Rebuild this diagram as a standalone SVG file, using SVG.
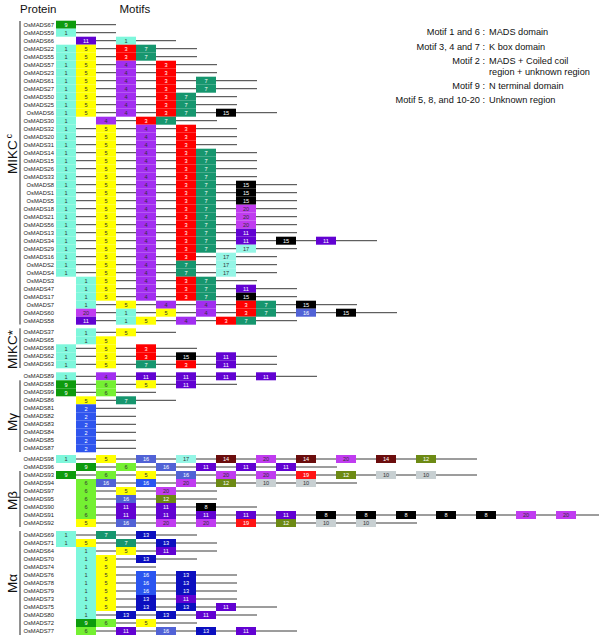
<svg xmlns="http://www.w3.org/2000/svg" width="600" height="636" viewBox="0 0 600 636">
<style>
text{font-family:"Liberation Sans",Arial,sans-serif}
.lbl{font-size:5.8px;fill:#222;text-anchor:end}
.d,.w{font-size:5.6px;text-anchor:middle}
.d{fill:#333}.w{fill:#fff}
.m1{fill:#7ef7dc}.m2{fill:#2f55ee}.m3{fill:#ff0000}.m4{fill:#a22ef0}.m5{fill:#ffff00}
.m6{fill:#74f032}.m7{fill:#16966e}.m8{fill:#000}.m9{fill:#0d9b0d}.m10{fill:#c8d0d2}
.m11{fill:#6202d2}.m12{fill:#6d8a14}.m13{fill:#0c0fbf}.m14{fill:#6b0d0d}.m15{fill:#000}
.m16{fill:#5162d6}.m17{fill:#95f6e6}.m19{fill:#ff1414}.m20{fill:#c03cf0}
#connectors line{stroke:#3a3a3a;stroke-width:1}
.br{stroke:#222;stroke-width:1}
.hdr{font-size:11.5px;fill:#111}
.leg{font-size:9.2px;fill:#111}
.la{text-anchor:end}
.grp{font-size:13.5px;fill:#111}
</style>
<rect width="600" height="636" fill="#fff"/>
<text class="hdr" x="20" y="12.5">Protein</text>
<text class="hdr" x="119.5" y="12.5">Motifs</text>
<g id="legend">
<text class="leg la" x="485" y="35.2">Motif 1 and 6 :</text><text class="leg" x="489" y="35.2">MADS domain</text>
<text class="leg la" x="485" y="49.5">Motif 3, 4 and 7 :</text><text class="leg" x="489" y="49.5">K box domain</text>
<text class="leg la" x="485" y="63.7">Motif 2 :</text><text class="leg" x="489" y="63.7">MADS + Coiled coil</text>
<text class="leg" x="489" y="74.7">region + unknown region</text>
<text class="leg la" x="485" y="89">Motif 9 :</text><text class="leg" x="489" y="89">N terminal domain</text>
<text class="leg la" x="485" y="103.2">Motif 5, 8, and 10-20 :</text><text class="leg" x="489" y="103.2">Unknown region</text>
</g>
<g id="groups">
<line class="br" x1="20" y1="21" x2="20" y2="324.5"/>
<line class="br" x1="20" y1="328.3" x2="20" y2="368"/>
<line class="br" x1="20" y1="380.3" x2="20" y2="452"/>
<line class="br" x1="20" y1="471" x2="20" y2="527"/>
<line class="br" x1="20" y1="531" x2="20" y2="635"/>
<text class="grp" transform="translate(17,174) rotate(-90)">MIKC<tspan dx="2" dy="-5" font-size="8.5">c</tspan></text>
<text class="grp" transform="translate(17,369) rotate(-90)">MIKC*</text>
<text class="grp" transform="translate(17,431) rotate(-90)">Mγ</text>
<text class="grp" transform="translate(17,510) rotate(-90)">Mβ</text>
<text class="grp" transform="translate(17,593) rotate(-90)">Mα</text>
</g>
<g id="connectors">
<line x1="56" y1="24.7" x2="116" y2="24.7"/>
<line x1="56" y1="32.7" x2="116" y2="32.7"/>
<line x1="76" y1="40.7" x2="176" y2="40.7"/>
<line x1="56" y1="48.7" x2="197" y2="48.7"/>
<line x1="56" y1="56.7" x2="197" y2="56.7"/>
<line x1="56" y1="64.7" x2="217" y2="64.7"/>
<line x1="56" y1="72.7" x2="217" y2="72.7"/>
<line x1="56" y1="80.7" x2="257" y2="80.7"/>
<line x1="56" y1="88.7" x2="257" y2="88.7"/>
<line x1="56" y1="96.7" x2="237" y2="96.7"/>
<line x1="56" y1="104.7" x2="237" y2="104.7"/>
<line x1="56" y1="112.7" x2="277" y2="112.7"/>
<line x1="96" y1="120.7" x2="217" y2="120.7"/>
<line x1="56" y1="128.7" x2="237" y2="128.7"/>
<line x1="56" y1="136.7" x2="237" y2="136.7"/>
<line x1="56" y1="144.7" x2="237" y2="144.7"/>
<line x1="56" y1="152.7" x2="257" y2="152.7"/>
<line x1="56" y1="160.7" x2="257" y2="160.7"/>
<line x1="56" y1="168.7" x2="257" y2="168.7"/>
<line x1="56" y1="176.7" x2="257" y2="176.7"/>
<line x1="56" y1="184.7" x2="297" y2="184.7"/>
<line x1="56" y1="192.7" x2="297" y2="192.7"/>
<line x1="56" y1="200.7" x2="297" y2="200.7"/>
<line x1="56" y1="208.7" x2="297" y2="208.7"/>
<line x1="56" y1="216.7" x2="297" y2="216.7"/>
<line x1="56" y1="224.7" x2="297" y2="224.7"/>
<line x1="56" y1="232.7" x2="297" y2="232.7"/>
<line x1="56" y1="240.7" x2="377" y2="240.7"/>
<line x1="56" y1="248.7" x2="297" y2="248.7"/>
<line x1="56" y1="256.7" x2="277" y2="256.7"/>
<line x1="56" y1="264.7" x2="277" y2="264.7"/>
<line x1="56" y1="272.7" x2="277" y2="272.7"/>
<line x1="76" y1="280.7" x2="257" y2="280.7"/>
<line x1="76" y1="288.7" x2="297" y2="288.7"/>
<line x1="76" y1="296.7" x2="297" y2="296.7"/>
<line x1="76" y1="304.7" x2="357" y2="304.7"/>
<line x1="76" y1="312.7" x2="397" y2="312.7"/>
<line x1="76" y1="320.7" x2="297" y2="320.7"/>
<line x1="76" y1="332.3" x2="176" y2="332.3"/>
<line x1="76" y1="340.3" x2="116" y2="340.3"/>
<line x1="56" y1="348.3" x2="197" y2="348.3"/>
<line x1="56" y1="356.3" x2="277" y2="356.3"/>
<line x1="56" y1="364.3" x2="277" y2="364.3"/>
<line x1="56" y1="376.3" x2="317" y2="376.3"/>
<line x1="56" y1="384.3" x2="237" y2="384.3"/>
<line x1="56" y1="392.3" x2="156" y2="392.3"/>
<line x1="76" y1="400.3" x2="176" y2="400.3"/>
<line x1="76" y1="408.3" x2="136" y2="408.3"/>
<line x1="76" y1="416.3" x2="136" y2="416.3"/>
<line x1="76" y1="424.3" x2="136" y2="424.3"/>
<line x1="76" y1="432.3" x2="136" y2="432.3"/>
<line x1="76" y1="440.3" x2="136" y2="440.3"/>
<line x1="76" y1="448.3" x2="136" y2="448.3"/>
<line x1="56" y1="459" x2="477" y2="459"/>
<line x1="76" y1="467" x2="337" y2="467"/>
<line x1="56" y1="475" x2="477" y2="475"/>
<line x1="76" y1="483" x2="357" y2="483"/>
<line x1="76" y1="491" x2="217" y2="491"/>
<line x1="76" y1="499" x2="217" y2="499"/>
<line x1="76" y1="507" x2="257" y2="507"/>
<line x1="76" y1="515" x2="599" y2="515"/>
<line x1="76" y1="523" x2="417" y2="523"/>
<line x1="56" y1="535" x2="197" y2="535"/>
<line x1="56" y1="543" x2="217" y2="543"/>
<line x1="76" y1="551" x2="217" y2="551"/>
<line x1="76" y1="559" x2="197" y2="559"/>
<line x1="76" y1="567" x2="156" y2="567"/>
<line x1="76" y1="575" x2="237" y2="575"/>
<line x1="76" y1="583" x2="237" y2="583"/>
<line x1="76" y1="591" x2="237" y2="591"/>
<line x1="76" y1="599" x2="237" y2="599"/>
<line x1="76" y1="607" x2="277" y2="607"/>
<line x1="76" y1="615" x2="257" y2="615"/>
<line x1="76" y1="623" x2="197" y2="623"/>
<line x1="76" y1="631" x2="297" y2="631"/>
</g>
<g id="OsMADS67" class="r" transform="translate(0,24.7)"><text class="lbl" x="54" y="2.1">OsMADS67</text><rect class="m9" x="56" y="-4" width="20" height="8"/><text class="w" x="66" y="2.2">9</text></g>
<g id="OsMADS59" class="r" transform="translate(0,32.7)"><text class="lbl" x="54" y="2.1">OsMADS59</text><rect class="m1" x="56" y="-4" width="20" height="8"/><text class="d" x="66" y="2.2">1</text></g>
<g id="OsMADS66" class="r" transform="translate(0,40.7)"><text class="lbl" x="54" y="2.1">OsMADS66</text><rect class="m11" x="76" y="-4" width="20" height="8"/><text class="w" x="86" y="2.2">11</text><rect class="m1" x="116" y="-4" width="20" height="8"/><text class="d" x="126" y="2.2">1</text></g>
<g id="OsMADS22" class="r" transform="translate(0,48.7)"><text class="lbl" x="54" y="2.1">OsMADS22</text><rect class="m1" x="56" y="-4" width="20" height="8"/><text class="d" x="66" y="2.2">1</text><rect class="m5" x="76" y="-4" width="20" height="8"/><text class="d" x="86" y="2.2">5</text><rect class="m3" x="116" y="-4" width="20" height="8"/><text class="w" x="126" y="2.2">3</text><rect class="m7" x="136" y="-4" width="20" height="8"/><text class="w" x="146" y="2.2">7</text></g>
<g id="OsMADS55" class="r" transform="translate(0,56.7)"><text class="lbl" x="54" y="2.1">OsMADS55</text><rect class="m1" x="56" y="-4" width="20" height="8"/><text class="d" x="66" y="2.2">1</text><rect class="m5" x="76" y="-4" width="20" height="8"/><text class="d" x="86" y="2.2">5</text><rect class="m3" x="116" y="-4" width="20" height="8"/><text class="w" x="126" y="2.2">3</text><rect class="m7" x="136" y="-4" width="20" height="8"/><text class="w" x="146" y="2.2">7</text></g>
<g id="OsMADS57" class="r" transform="translate(0,64.7)"><text class="lbl" x="54" y="2.1">OsMADS57</text><rect class="m1" x="56" y="-4" width="20" height="8"/><text class="d" x="66" y="2.2">1</text><rect class="m5" x="76" y="-4" width="20" height="8"/><text class="d" x="86" y="2.2">5</text><rect class="m4" x="116" y="-4" width="20" height="8"/><text class="d" x="126" y="2.2">4</text><rect class="m3" x="156" y="-4" width="20" height="8"/><text class="w" x="166" y="2.2">3</text></g>
<g id="OsMADS23" class="r" transform="translate(0,72.7)"><text class="lbl" x="54" y="2.1">OsMADS23</text><rect class="m1" x="56" y="-4" width="20" height="8"/><text class="d" x="66" y="2.2">1</text><rect class="m5" x="76" y="-4" width="20" height="8"/><text class="d" x="86" y="2.2">5</text><rect class="m4" x="116" y="-4" width="20" height="8"/><text class="d" x="126" y="2.2">4</text><rect class="m3" x="156" y="-4" width="20" height="8"/><text class="w" x="166" y="2.2">3</text></g>
<g id="OsMADS61" class="r" transform="translate(0,80.7)"><text class="lbl" x="54" y="2.1">OsMADS61</text><rect class="m1" x="56" y="-4" width="20" height="8"/><text class="d" x="66" y="2.2">1</text><rect class="m5" x="76" y="-4" width="20" height="8"/><text class="d" x="86" y="2.2">5</text><rect class="m4" x="116" y="-4" width="20" height="8"/><text class="d" x="126" y="2.2">4</text><rect class="m3" x="156" y="-4" width="20" height="8"/><text class="w" x="166" y="2.2">3</text><rect class="m7" x="196" y="-4" width="20" height="8"/><text class="w" x="206" y="2.2">7</text></g>
<g id="OsMADS27" class="r" transform="translate(0,88.7)"><text class="lbl" x="54" y="2.1">OsMADS27</text><rect class="m1" x="56" y="-4" width="20" height="8"/><text class="d" x="66" y="2.2">1</text><rect class="m5" x="76" y="-4" width="20" height="8"/><text class="d" x="86" y="2.2">5</text><rect class="m4" x="116" y="-4" width="20" height="8"/><text class="d" x="126" y="2.2">4</text><rect class="m3" x="156" y="-4" width="20" height="8"/><text class="w" x="166" y="2.2">3</text><rect class="m7" x="196" y="-4" width="20" height="8"/><text class="w" x="206" y="2.2">7</text></g>
<g id="OsMADS50" class="r" transform="translate(0,96.7)"><text class="lbl" x="54" y="2.1">OsMADS50</text><rect class="m1" x="56" y="-4" width="20" height="8"/><text class="d" x="66" y="2.2">1</text><rect class="m5" x="76" y="-4" width="20" height="8"/><text class="d" x="86" y="2.2">5</text><rect class="m4" x="116" y="-4" width="20" height="8"/><text class="d" x="126" y="2.2">4</text><rect class="m3" x="156" y="-4" width="20" height="8"/><text class="w" x="166" y="2.2">3</text><rect class="m7" x="176" y="-4" width="20" height="8"/><text class="w" x="186" y="2.2">7</text></g>
<g id="OsMADS25" class="r" transform="translate(0,104.7)"><text class="lbl" x="54" y="2.1">OsMADS25</text><rect class="m1" x="56" y="-4" width="20" height="8"/><text class="d" x="66" y="2.2">1</text><rect class="m5" x="76" y="-4" width="20" height="8"/><text class="d" x="86" y="2.2">5</text><rect class="m4" x="116" y="-4" width="20" height="8"/><text class="d" x="126" y="2.2">4</text><rect class="m3" x="156" y="-4" width="20" height="8"/><text class="w" x="166" y="2.2">3</text><rect class="m7" x="176" y="-4" width="20" height="8"/><text class="w" x="186" y="2.2">7</text></g>
<g id="OsMADS6" class="r" transform="translate(0,112.7)"><text class="lbl" x="54" y="2.1">OsMADS6</text><rect class="m1" x="56" y="-4" width="20" height="8"/><text class="d" x="66" y="2.2">1</text><rect class="m5" x="76" y="-4" width="20" height="8"/><text class="d" x="86" y="2.2">5</text><rect class="m4" x="116" y="-4" width="20" height="8"/><text class="d" x="126" y="2.2">4</text><rect class="m3" x="156" y="-4" width="20" height="8"/><text class="w" x="166" y="2.2">3</text><rect class="m7" x="176" y="-4" width="20" height="8"/><text class="w" x="186" y="2.2">7</text><rect class="m15" x="216" y="-4" width="20" height="8"/><text class="w" x="226" y="2.2">15</text></g>
<g id="OsMADS30" class="r" transform="translate(0,120.7)"><text class="lbl" x="54" y="2.1">OsMADS30</text><rect class="m1" x="56" y="-4" width="20" height="8"/><text class="d" x="66" y="2.2">1</text><rect class="m4" x="96" y="-4" width="20" height="8"/><text class="d" x="106" y="2.2">4</text><rect class="m3" x="136" y="-4" width="20" height="8"/><text class="w" x="146" y="2.2">3</text><rect class="m7" x="156" y="-4" width="20" height="8"/><text class="w" x="166" y="2.2">7</text></g>
<g id="OsMADS32" class="r" transform="translate(0,128.7)"><text class="lbl" x="54" y="2.1">OsMADS32</text><rect class="m1" x="56" y="-4" width="20" height="8"/><text class="d" x="66" y="2.2">1</text><rect class="m5" x="96" y="-4" width="20" height="8"/><text class="d" x="106" y="2.2">5</text><rect class="m4" x="136" y="-4" width="20" height="8"/><text class="d" x="146" y="2.2">4</text><rect class="m3" x="176" y="-4" width="20" height="8"/><text class="w" x="186" y="2.2">3</text></g>
<g id="OsMADS20" class="r" transform="translate(0,136.7)"><text class="lbl" x="54" y="2.1">OsMADS20</text><rect class="m1" x="56" y="-4" width="20" height="8"/><text class="d" x="66" y="2.2">1</text><rect class="m5" x="96" y="-4" width="20" height="8"/><text class="d" x="106" y="2.2">5</text><rect class="m4" x="136" y="-4" width="20" height="8"/><text class="d" x="146" y="2.2">4</text><rect class="m3" x="176" y="-4" width="20" height="8"/><text class="w" x="186" y="2.2">3</text></g>
<g id="OsMADS31" class="r" transform="translate(0,144.7)"><text class="lbl" x="54" y="2.1">OsMADS31</text><rect class="m1" x="56" y="-4" width="20" height="8"/><text class="d" x="66" y="2.2">1</text><rect class="m5" x="96" y="-4" width="20" height="8"/><text class="d" x="106" y="2.2">5</text><rect class="m4" x="136" y="-4" width="20" height="8"/><text class="d" x="146" y="2.2">4</text><rect class="m3" x="176" y="-4" width="20" height="8"/><text class="w" x="186" y="2.2">3</text></g>
<g id="OsMADS14" class="r" transform="translate(0,152.7)"><text class="lbl" x="54" y="2.1">OsMADS14</text><rect class="m1" x="56" y="-4" width="20" height="8"/><text class="d" x="66" y="2.2">1</text><rect class="m5" x="96" y="-4" width="20" height="8"/><text class="d" x="106" y="2.2">5</text><rect class="m4" x="136" y="-4" width="20" height="8"/><text class="d" x="146" y="2.2">4</text><rect class="m3" x="176" y="-4" width="20" height="8"/><text class="w" x="186" y="2.2">3</text><rect class="m7" x="196" y="-4" width="20" height="8"/><text class="w" x="206" y="2.2">7</text></g>
<g id="OsMADS15" class="r" transform="translate(0,160.7)"><text class="lbl" x="54" y="2.1">OsMADS15</text><rect class="m1" x="56" y="-4" width="20" height="8"/><text class="d" x="66" y="2.2">1</text><rect class="m5" x="96" y="-4" width="20" height="8"/><text class="d" x="106" y="2.2">5</text><rect class="m4" x="136" y="-4" width="20" height="8"/><text class="d" x="146" y="2.2">4</text><rect class="m3" x="176" y="-4" width="20" height="8"/><text class="w" x="186" y="2.2">3</text><rect class="m7" x="196" y="-4" width="20" height="8"/><text class="w" x="206" y="2.2">7</text></g>
<g id="OsMADS26" class="r" transform="translate(0,168.7)"><text class="lbl" x="54" y="2.1">OsMADS26</text><rect class="m1" x="56" y="-4" width="20" height="8"/><text class="d" x="66" y="2.2">1</text><rect class="m5" x="96" y="-4" width="20" height="8"/><text class="d" x="106" y="2.2">5</text><rect class="m4" x="136" y="-4" width="20" height="8"/><text class="d" x="146" y="2.2">4</text><rect class="m3" x="176" y="-4" width="20" height="8"/><text class="w" x="186" y="2.2">3</text><rect class="m7" x="196" y="-4" width="20" height="8"/><text class="w" x="206" y="2.2">7</text></g>
<g id="OsMADS33" class="r" transform="translate(0,176.7)"><text class="lbl" x="54" y="2.1">OsMADS33</text><rect class="m1" x="56" y="-4" width="20" height="8"/><text class="d" x="66" y="2.2">1</text><rect class="m5" x="96" y="-4" width="20" height="8"/><text class="d" x="106" y="2.2">5</text><rect class="m4" x="136" y="-4" width="20" height="8"/><text class="d" x="146" y="2.2">4</text><rect class="m3" x="176" y="-4" width="20" height="8"/><text class="w" x="186" y="2.2">3</text><rect class="m7" x="196" y="-4" width="20" height="8"/><text class="w" x="206" y="2.2">7</text></g>
<g id="OsMADS8" class="r" transform="translate(0,184.7)"><text class="lbl" x="54" y="2.1">OsMADS8</text><rect class="m1" x="56" y="-4" width="20" height="8"/><text class="d" x="66" y="2.2">1</text><rect class="m5" x="96" y="-4" width="20" height="8"/><text class="d" x="106" y="2.2">5</text><rect class="m4" x="136" y="-4" width="20" height="8"/><text class="d" x="146" y="2.2">4</text><rect class="m3" x="176" y="-4" width="20" height="8"/><text class="w" x="186" y="2.2">3</text><rect class="m7" x="196" y="-4" width="20" height="8"/><text class="w" x="206" y="2.2">7</text><rect class="m15" x="236" y="-4" width="20" height="8"/><text class="w" x="246" y="2.2">15</text></g>
<g id="OsMADS1" class="r" transform="translate(0,192.7)"><text class="lbl" x="54" y="2.1">OsMADS1</text><rect class="m1" x="56" y="-4" width="20" height="8"/><text class="d" x="66" y="2.2">1</text><rect class="m5" x="96" y="-4" width="20" height="8"/><text class="d" x="106" y="2.2">5</text><rect class="m4" x="136" y="-4" width="20" height="8"/><text class="d" x="146" y="2.2">4</text><rect class="m3" x="176" y="-4" width="20" height="8"/><text class="w" x="186" y="2.2">3</text><rect class="m7" x="196" y="-4" width="20" height="8"/><text class="w" x="206" y="2.2">7</text><rect class="m15" x="236" y="-4" width="20" height="8"/><text class="w" x="246" y="2.2">15</text></g>
<g id="OsMADS5" class="r" transform="translate(0,200.7)"><text class="lbl" x="54" y="2.1">OsMADS5</text><rect class="m1" x="56" y="-4" width="20" height="8"/><text class="d" x="66" y="2.2">1</text><rect class="m5" x="96" y="-4" width="20" height="8"/><text class="d" x="106" y="2.2">5</text><rect class="m4" x="136" y="-4" width="20" height="8"/><text class="d" x="146" y="2.2">4</text><rect class="m3" x="176" y="-4" width="20" height="8"/><text class="w" x="186" y="2.2">3</text><rect class="m7" x="196" y="-4" width="20" height="8"/><text class="w" x="206" y="2.2">7</text><rect class="m15" x="236" y="-4" width="20" height="8"/><text class="w" x="246" y="2.2">15</text></g>
<g id="OsMADS18" class="r" transform="translate(0,208.7)"><text class="lbl" x="54" y="2.1">OsMADS18</text><rect class="m1" x="56" y="-4" width="20" height="8"/><text class="d" x="66" y="2.2">1</text><rect class="m5" x="96" y="-4" width="20" height="8"/><text class="d" x="106" y="2.2">5</text><rect class="m4" x="136" y="-4" width="20" height="8"/><text class="d" x="146" y="2.2">4</text><rect class="m3" x="176" y="-4" width="20" height="8"/><text class="w" x="186" y="2.2">3</text><rect class="m7" x="196" y="-4" width="20" height="8"/><text class="w" x="206" y="2.2">7</text><rect class="m20" x="236" y="-4" width="20" height="8"/><text class="d" x="246" y="2.2">20</text></g>
<g id="OsMADS21" class="r" transform="translate(0,216.7)"><text class="lbl" x="54" y="2.1">OsMADS21</text><rect class="m1" x="56" y="-4" width="20" height="8"/><text class="d" x="66" y="2.2">1</text><rect class="m5" x="96" y="-4" width="20" height="8"/><text class="d" x="106" y="2.2">5</text><rect class="m4" x="136" y="-4" width="20" height="8"/><text class="d" x="146" y="2.2">4</text><rect class="m3" x="176" y="-4" width="20" height="8"/><text class="w" x="186" y="2.2">3</text><rect class="m7" x="196" y="-4" width="20" height="8"/><text class="w" x="206" y="2.2">7</text><rect class="m20" x="236" y="-4" width="20" height="8"/><text class="d" x="246" y="2.2">20</text></g>
<g id="OsMADS56" class="r" transform="translate(0,224.7)"><text class="lbl" x="54" y="2.1">OsMADS56</text><rect class="m1" x="56" y="-4" width="20" height="8"/><text class="d" x="66" y="2.2">1</text><rect class="m5" x="96" y="-4" width="20" height="8"/><text class="d" x="106" y="2.2">5</text><rect class="m4" x="136" y="-4" width="20" height="8"/><text class="d" x="146" y="2.2">4</text><rect class="m3" x="176" y="-4" width="20" height="8"/><text class="w" x="186" y="2.2">3</text><rect class="m7" x="196" y="-4" width="20" height="8"/><text class="w" x="206" y="2.2">7</text><rect class="m20" x="236" y="-4" width="20" height="8"/><text class="d" x="246" y="2.2">20</text></g>
<g id="OsMADS13" class="r" transform="translate(0,232.7)"><text class="lbl" x="54" y="2.1">OsMADS13</text><rect class="m1" x="56" y="-4" width="20" height="8"/><text class="d" x="66" y="2.2">1</text><rect class="m5" x="96" y="-4" width="20" height="8"/><text class="d" x="106" y="2.2">5</text><rect class="m4" x="136" y="-4" width="20" height="8"/><text class="d" x="146" y="2.2">4</text><rect class="m3" x="176" y="-4" width="20" height="8"/><text class="w" x="186" y="2.2">3</text><rect class="m7" x="196" y="-4" width="20" height="8"/><text class="w" x="206" y="2.2">7</text><rect class="m11" x="236" y="-4" width="20" height="8"/><text class="w" x="246" y="2.2">11</text></g>
<g id="OsMADS34" class="r" transform="translate(0,240.7)"><text class="lbl" x="54" y="2.1">OsMADS34</text><rect class="m1" x="56" y="-4" width="20" height="8"/><text class="d" x="66" y="2.2">1</text><rect class="m5" x="96" y="-4" width="20" height="8"/><text class="d" x="106" y="2.2">5</text><rect class="m4" x="136" y="-4" width="20" height="8"/><text class="d" x="146" y="2.2">4</text><rect class="m3" x="176" y="-4" width="20" height="8"/><text class="w" x="186" y="2.2">3</text><rect class="m7" x="196" y="-4" width="20" height="8"/><text class="w" x="206" y="2.2">7</text><rect class="m11" x="236" y="-4" width="20" height="8"/><text class="w" x="246" y="2.2">11</text><rect class="m15" x="276" y="-4" width="20" height="8"/><text class="w" x="286" y="2.2">15</text><rect class="m11" x="316" y="-4" width="20" height="8"/><text class="w" x="326" y="2.2">11</text></g>
<g id="OsMADS29" class="r" transform="translate(0,248.7)"><text class="lbl" x="54" y="2.1">OsMADS29</text><rect class="m1" x="56" y="-4" width="20" height="8"/><text class="d" x="66" y="2.2">1</text><rect class="m5" x="96" y="-4" width="20" height="8"/><text class="d" x="106" y="2.2">5</text><rect class="m4" x="136" y="-4" width="20" height="8"/><text class="d" x="146" y="2.2">4</text><rect class="m3" x="176" y="-4" width="20" height="8"/><text class="w" x="186" y="2.2">3</text><rect class="m7" x="196" y="-4" width="20" height="8"/><text class="w" x="206" y="2.2">7</text><rect class="m17" x="236" y="-4" width="20" height="8"/><text class="d" x="246" y="2.2">17</text></g>
<g id="OsMADS16" class="r" transform="translate(0,256.7)"><text class="lbl" x="54" y="2.1">OsMADS16</text><rect class="m1" x="56" y="-4" width="20" height="8"/><text class="d" x="66" y="2.2">1</text><rect class="m5" x="96" y="-4" width="20" height="8"/><text class="d" x="106" y="2.2">5</text><rect class="m4" x="136" y="-4" width="20" height="8"/><text class="d" x="146" y="2.2">4</text><rect class="m3" x="176" y="-4" width="20" height="8"/><text class="w" x="186" y="2.2">3</text><rect class="m17" x="216" y="-4" width="20" height="8"/><text class="d" x="226" y="2.2">17</text></g>
<g id="OsMADS2" class="r" transform="translate(0,264.7)"><text class="lbl" x="54" y="2.1">OsMADS2</text><rect class="m1" x="56" y="-4" width="20" height="8"/><text class="d" x="66" y="2.2">1</text><rect class="m5" x="96" y="-4" width="20" height="8"/><text class="d" x="106" y="2.2">5</text><rect class="m4" x="136" y="-4" width="20" height="8"/><text class="d" x="146" y="2.2">4</text><rect class="m7" x="176" y="-4" width="20" height="8"/><text class="w" x="186" y="2.2">7</text><rect class="m17" x="216" y="-4" width="20" height="8"/><text class="d" x="226" y="2.2">17</text></g>
<g id="OsMADS4" class="r" transform="translate(0,272.7)"><text class="lbl" x="54" y="2.1">OsMADS4</text><rect class="m1" x="56" y="-4" width="20" height="8"/><text class="d" x="66" y="2.2">1</text><rect class="m5" x="96" y="-4" width="20" height="8"/><text class="d" x="106" y="2.2">5</text><rect class="m4" x="136" y="-4" width="20" height="8"/><text class="d" x="146" y="2.2">4</text><rect class="m7" x="176" y="-4" width="20" height="8"/><text class="w" x="186" y="2.2">7</text><rect class="m17" x="216" y="-4" width="20" height="8"/><text class="d" x="226" y="2.2">17</text></g>
<g id="OsMADS3" class="r" transform="translate(0,280.7)"><text class="lbl" x="54" y="2.1">OsMADS3</text><rect class="m1" x="76" y="-4" width="20" height="8"/><text class="d" x="86" y="2.2">1</text><rect class="m5" x="96" y="-4" width="20" height="8"/><text class="d" x="106" y="2.2">5</text><rect class="m4" x="136" y="-4" width="20" height="8"/><text class="d" x="146" y="2.2">4</text><rect class="m3" x="176" y="-4" width="20" height="8"/><text class="w" x="186" y="2.2">3</text><rect class="m7" x="196" y="-4" width="20" height="8"/><text class="w" x="206" y="2.2">7</text></g>
<g id="OsMADS47" class="r" transform="translate(0,288.7)"><text class="lbl" x="54" y="2.1">OsMADS47</text><rect class="m1" x="76" y="-4" width="20" height="8"/><text class="d" x="86" y="2.2">1</text><rect class="m5" x="96" y="-4" width="20" height="8"/><text class="d" x="106" y="2.2">5</text><rect class="m4" x="136" y="-4" width="20" height="8"/><text class="d" x="146" y="2.2">4</text><rect class="m3" x="176" y="-4" width="20" height="8"/><text class="w" x="186" y="2.2">3</text><rect class="m7" x="196" y="-4" width="20" height="8"/><text class="w" x="206" y="2.2">7</text><rect class="m11" x="236" y="-4" width="20" height="8"/><text class="w" x="246" y="2.2">11</text></g>
<g id="OsMADS17" class="r" transform="translate(0,296.7)"><text class="lbl" x="54" y="2.1">OsMADS17</text><rect class="m1" x="76" y="-4" width="20" height="8"/><text class="d" x="86" y="2.2">1</text><rect class="m5" x="96" y="-4" width="20" height="8"/><text class="d" x="106" y="2.2">5</text><rect class="m4" x="136" y="-4" width="20" height="8"/><text class="d" x="146" y="2.2">4</text><rect class="m3" x="176" y="-4" width="20" height="8"/><text class="w" x="186" y="2.2">3</text><rect class="m7" x="196" y="-4" width="20" height="8"/><text class="w" x="206" y="2.2">7</text><rect class="m15" x="236" y="-4" width="20" height="8"/><text class="w" x="246" y="2.2">15</text></g>
<g id="OsMADS7" class="r" transform="translate(0,304.7)"><text class="lbl" x="54" y="2.1">OsMADS7</text><rect class="m1" x="76" y="-4" width="20" height="8"/><text class="d" x="86" y="2.2">1</text><rect class="m5" x="116" y="-4" width="20" height="8"/><text class="d" x="126" y="2.2">5</text><rect class="m4" x="156" y="-4" width="20" height="8"/><text class="d" x="166" y="2.2">4</text><rect class="m4" x="196" y="-4" width="20" height="8"/><text class="d" x="206" y="2.2">4</text><rect class="m3" x="236" y="-4" width="20" height="8"/><text class="w" x="246" y="2.2">3</text><rect class="m7" x="256" y="-4" width="20" height="8"/><text class="w" x="266" y="2.2">7</text><rect class="m15" x="296" y="-4" width="20" height="8"/><text class="w" x="306" y="2.2">15</text></g>
<g id="OsMADS60" class="r" transform="translate(0,312.7)"><text class="lbl" x="54" y="2.1">OsMADS60</text><rect class="m20" x="76" y="-4" width="20" height="8"/><text class="d" x="86" y="2.2">20</text><rect class="m1" x="116" y="-4" width="20" height="8"/><text class="d" x="126" y="2.2">1</text><rect class="m5" x="156" y="-4" width="20" height="8"/><text class="d" x="166" y="2.2">5</text><rect class="m4" x="196" y="-4" width="20" height="8"/><text class="d" x="206" y="2.2">4</text><rect class="m3" x="236" y="-4" width="20" height="8"/><text class="w" x="246" y="2.2">3</text><rect class="m7" x="256" y="-4" width="20" height="8"/><text class="w" x="266" y="2.2">7</text><rect class="m16" x="296" y="-4" width="20" height="8"/><text class="w" x="306" y="2.2">16</text><rect class="m15" x="336" y="-4" width="20" height="8"/><text class="w" x="346" y="2.2">15</text></g>
<g id="OsMADS58" class="r" transform="translate(0,320.7)"><text class="lbl" x="54" y="2.1">OsMADS58</text><rect class="m11" x="76" y="-4" width="20" height="8"/><text class="w" x="86" y="2.2">11</text><rect class="m1" x="116" y="-4" width="20" height="8"/><text class="d" x="126" y="2.2">1</text><rect class="m5" x="136" y="-4" width="20" height="8"/><text class="d" x="146" y="2.2">5</text><rect class="m4" x="176" y="-4" width="20" height="8"/><text class="d" x="186" y="2.2">4</text><rect class="m3" x="216" y="-4" width="20" height="8"/><text class="w" x="226" y="2.2">3</text><rect class="m7" x="236" y="-4" width="20" height="8"/><text class="w" x="246" y="2.2">7</text></g>
<g id="OsMADS37" class="r" transform="translate(0,332.3)"><text class="lbl" x="54" y="2.1">OsMADS37</text><rect class="m1" x="76" y="-4" width="20" height="8"/><text class="d" x="86" y="2.2">1</text><rect class="m5" x="116" y="-4" width="20" height="8"/><text class="d" x="126" y="2.2">5</text></g>
<g id="OsMADS65" class="r" transform="translate(0,340.3)"><text class="lbl" x="54" y="2.1">OsMADS65</text><rect class="m1" x="76" y="-4" width="20" height="8"/><text class="d" x="86" y="2.2">1</text><rect class="m5" x="96" y="-4" width="20" height="8"/><text class="d" x="106" y="2.2">5</text></g>
<g id="OsMADS68" class="r" transform="translate(0,348.3)"><text class="lbl" x="54" y="2.1">OsMADS68</text><rect class="m1" x="56" y="-4" width="20" height="8"/><text class="d" x="66" y="2.2">1</text><rect class="m5" x="96" y="-4" width="20" height="8"/><text class="d" x="106" y="2.2">5</text><rect class="m3" x="136" y="-4" width="20" height="8"/><text class="w" x="146" y="2.2">3</text></g>
<g id="OsMADS62" class="r" transform="translate(0,356.3)"><text class="lbl" x="54" y="2.1">OsMADS62</text><rect class="m1" x="56" y="-4" width="20" height="8"/><text class="d" x="66" y="2.2">1</text><rect class="m5" x="96" y="-4" width="20" height="8"/><text class="d" x="106" y="2.2">5</text><rect class="m3" x="136" y="-4" width="20" height="8"/><text class="w" x="146" y="2.2">3</text><rect class="m15" x="176" y="-4" width="20" height="8"/><text class="w" x="186" y="2.2">15</text><rect class="m11" x="216" y="-4" width="20" height="8"/><text class="w" x="226" y="2.2">11</text></g>
<g id="OsMADS63" class="r" transform="translate(0,364.3)"><text class="lbl" x="54" y="2.1">OsMADS63</text><rect class="m1" x="56" y="-4" width="20" height="8"/><text class="d" x="66" y="2.2">1</text><rect class="m5" x="96" y="-4" width="20" height="8"/><text class="d" x="106" y="2.2">5</text><rect class="m7" x="136" y="-4" width="20" height="8"/><text class="w" x="146" y="2.2">7</text><rect class="m3" x="176" y="-4" width="20" height="8"/><text class="w" x="186" y="2.2">3</text><rect class="m11" x="216" y="-4" width="20" height="8"/><text class="w" x="226" y="2.2">11</text></g>
<g id="OsMADS89" class="r" transform="translate(0,376.3)"><text class="lbl" x="54" y="2.1">OsMADS89</text><rect class="m1" x="56" y="-4" width="20" height="8"/><text class="d" x="66" y="2.2">1</text><rect class="m4" x="96" y="-4" width="20" height="8"/><text class="d" x="106" y="2.2">4</text><rect class="m11" x="136" y="-4" width="20" height="8"/><text class="w" x="146" y="2.2">11</text><rect class="m11" x="176" y="-4" width="20" height="8"/><text class="w" x="186" y="2.2">11</text><rect class="m11" x="216" y="-4" width="20" height="8"/><text class="w" x="226" y="2.2">11</text><rect class="m11" x="256" y="-4" width="20" height="8"/><text class="w" x="266" y="2.2">11</text></g>
<g id="OsMADS88" class="r" transform="translate(0,384.3)"><text class="lbl" x="54" y="2.1">OsMADS88</text><rect class="m9" x="56" y="-4" width="20" height="8"/><text class="w" x="66" y="2.2">9</text><rect class="m6" x="96" y="-4" width="20" height="8"/><text class="d" x="106" y="2.2">6</text><rect class="m5" x="136" y="-4" width="20" height="8"/><text class="d" x="146" y="2.2">5</text><rect class="m11" x="176" y="-4" width="20" height="8"/><text class="w" x="186" y="2.2">11</text></g>
<g id="OsMADS99" class="r" transform="translate(0,392.3)"><text class="lbl" x="54" y="2.1">OsMADS99</text><rect class="m9" x="56" y="-4" width="20" height="8"/><text class="w" x="66" y="2.2">9</text><rect class="m6" x="96" y="-4" width="20" height="8"/><text class="d" x="106" y="2.2">6</text></g>
<g id="OsMADS86" class="r" transform="translate(0,400.3)"><text class="lbl" x="54" y="2.1">OsMADS86</text><rect class="m5" x="76" y="-4" width="20" height="8"/><text class="d" x="86" y="2.2">5</text><rect class="m7" x="116" y="-4" width="20" height="8"/><text class="w" x="126" y="2.2">7</text></g>
<g id="OsMADS81" class="r" transform="translate(0,408.3)"><text class="lbl" x="54" y="2.1">OsMADS81</text><rect class="m2" x="76" y="-4" width="20" height="8"/><text class="w" x="86" y="2.2">2</text></g>
<g id="OsMADS82" class="r" transform="translate(0,416.3)"><text class="lbl" x="54" y="2.1">OsMADS82</text><rect class="m2" x="76" y="-4" width="20" height="8"/><text class="w" x="86" y="2.2">2</text></g>
<g id="OsMADS83" class="r" transform="translate(0,424.3)"><text class="lbl" x="54" y="2.1">OsMADS83</text><rect class="m2" x="76" y="-4" width="20" height="8"/><text class="w" x="86" y="2.2">2</text></g>
<g id="OsMADS84" class="r" transform="translate(0,432.3)"><text class="lbl" x="54" y="2.1">OsMADS84</text><rect class="m2" x="76" y="-4" width="20" height="8"/><text class="w" x="86" y="2.2">2</text></g>
<g id="OsMADS85" class="r" transform="translate(0,440.3)"><text class="lbl" x="54" y="2.1">OsMADS85</text><rect class="m2" x="76" y="-4" width="20" height="8"/><text class="w" x="86" y="2.2">2</text></g>
<g id="OsMADS87" class="r" transform="translate(0,448.3)"><text class="lbl" x="54" y="2.1">OsMADS87</text><rect class="m2" x="76" y="-4" width="20" height="8"/><text class="w" x="86" y="2.2">2</text></g>
<g id="OsMADS98" class="r" transform="translate(0,459)"><text class="lbl" x="54" y="2.1">OsMADS98</text><rect class="m1" x="56" y="-4" width="20" height="8"/><text class="d" x="66" y="2.2">1</text><rect class="m5" x="96" y="-4" width="20" height="8"/><text class="d" x="106" y="2.2">5</text><rect class="m16" x="136" y="-4" width="20" height="8"/><text class="w" x="146" y="2.2">16</text><rect class="m17" x="176" y="-4" width="20" height="8"/><text class="d" x="186" y="2.2">17</text><rect class="m14" x="216" y="-4" width="20" height="8"/><text class="w" x="226" y="2.2">14</text><rect class="m20" x="256" y="-4" width="20" height="8"/><text class="d" x="266" y="2.2">20</text><rect class="m14" x="296" y="-4" width="20" height="8"/><text class="w" x="306" y="2.2">14</text><rect class="m20" x="336" y="-4" width="20" height="8"/><text class="d" x="346" y="2.2">20</text><rect class="m14" x="376" y="-4" width="20" height="8"/><text class="w" x="386" y="2.2">14</text><rect class="m12" x="416" y="-4" width="20" height="8"/><text class="w" x="426" y="2.2">12</text></g>
<g id="OsMADS96" class="r" transform="translate(0,467)"><text class="lbl" x="54" y="2.1">OsMADS96</text><rect class="m9" x="76" y="-4" width="20" height="8"/><text class="w" x="86" y="2.2">9</text><rect class="m6" x="116" y="-4" width="20" height="8"/><text class="d" x="126" y="2.2">6</text><rect class="m16" x="156" y="-4" width="20" height="8"/><text class="w" x="166" y="2.2">16</text><rect class="m11" x="196" y="-4" width="20" height="8"/><text class="w" x="206" y="2.2">11</text><rect class="m11" x="236" y="-4" width="20" height="8"/><text class="w" x="246" y="2.2">11</text><rect class="m11" x="276" y="-4" width="20" height="8"/><text class="w" x="286" y="2.2">11</text></g>
<g id="OsMADS93" class="r" transform="translate(0,475)"><text class="lbl" x="54" y="2.1">OsMADS93</text><rect class="m9" x="56" y="-4" width="20" height="8"/><text class="w" x="66" y="2.2">9</text><rect class="m6" x="96" y="-4" width="20" height="8"/><text class="d" x="106" y="2.2">6</text><rect class="m5" x="136" y="-4" width="20" height="8"/><text class="d" x="146" y="2.2">5</text><rect class="m16" x="176" y="-4" width="20" height="8"/><text class="w" x="186" y="2.2">16</text><rect class="m20" x="216" y="-4" width="20" height="8"/><text class="d" x="226" y="2.2">20</text><rect class="m20" x="256" y="-4" width="20" height="8"/><text class="d" x="266" y="2.2">20</text><rect class="m19" x="296" y="-4" width="20" height="8"/><text class="w" x="306" y="2.2">19</text><rect class="m12" x="336" y="-4" width="20" height="8"/><text class="w" x="346" y="2.2">12</text><rect class="m10" x="376" y="-4" width="20" height="8"/><text class="d" x="386" y="2.2">10</text><rect class="m10" x="416" y="-4" width="20" height="8"/><text class="d" x="426" y="2.2">10</text></g>
<g id="OsMADS94" class="r" transform="translate(0,483)"><text class="lbl" x="54" y="2.1">OsMADS94</text><rect class="m6" x="76" y="-4" width="20" height="8"/><text class="d" x="86" y="2.2">6</text><rect class="m16" x="96" y="-4" width="20" height="8"/><text class="w" x="106" y="2.2">16</text><rect class="m16" x="136" y="-4" width="20" height="8" style="fill:#2a55f0"/><text class="w" x="146" y="2.2">16</text><rect class="m20" x="176" y="-4" width="20" height="8"/><text class="d" x="186" y="2.2">20</text><rect class="m12" x="216" y="-4" width="20" height="8"/><text class="w" x="226" y="2.2">12</text><rect class="m10" x="256" y="-4" width="20" height="8"/><text class="d" x="266" y="2.2">10</text><rect class="m10" x="296" y="-4" width="20" height="8"/><text class="d" x="306" y="2.2">10</text></g>
<g id="OsMADS97" class="r" transform="translate(0,491)"><text class="lbl" x="54" y="2.1">OsMADS97</text><rect class="m6" x="76" y="-4" width="20" height="8"/><text class="d" x="86" y="2.2">6</text><rect class="m5" x="116" y="-4" width="20" height="8"/><text class="d" x="126" y="2.2">5</text><rect class="m20" x="156" y="-4" width="20" height="8"/><text class="d" x="166" y="2.2">20</text></g>
<g id="OsMADS95" class="r" transform="translate(0,499)"><text class="lbl" x="54" y="2.1">OsMADS95</text><rect class="m6" x="76" y="-4" width="20" height="8"/><text class="d" x="86" y="2.2">6</text><rect class="m16" x="116" y="-4" width="20" height="8"/><text class="w" x="126" y="2.2">16</text><rect class="m12" x="156" y="-4" width="20" height="8"/><text class="w" x="166" y="2.2">12</text></g>
<g id="OsMADS90" class="r" transform="translate(0,507)"><text class="lbl" x="54" y="2.1">OsMADS90</text><rect class="m6" x="76" y="-4" width="20" height="8"/><text class="d" x="86" y="2.2">6</text><rect class="m11" x="116" y="-4" width="20" height="8"/><text class="w" x="126" y="2.2">11</text><rect class="m11" x="156" y="-4" width="20" height="8"/><text class="w" x="166" y="2.2">11</text><rect class="m8" x="196" y="-4" width="20" height="8"/><text class="w" x="206" y="2.2">8</text></g>
<g id="OsMADS91" class="r" transform="translate(0,515)"><text class="lbl" x="54" y="2.1">OsMADS91</text><rect class="m6" x="76" y="-4" width="20" height="8"/><text class="d" x="86" y="2.2">6</text><rect class="m11" x="116" y="-4" width="20" height="8"/><text class="w" x="126" y="2.2">11</text><rect class="m11" x="156" y="-4" width="20" height="8"/><text class="w" x="166" y="2.2">11</text><rect class="m11" x="196" y="-4" width="20" height="8"/><text class="w" x="206" y="2.2">11</text><rect class="m11" x="236" y="-4" width="20" height="8"/><text class="w" x="246" y="2.2">11</text><rect class="m11" x="276" y="-4" width="20" height="8"/><text class="w" x="286" y="2.2">11</text><rect class="m8" x="316" y="-4" width="20" height="8"/><text class="w" x="326" y="2.2">8</text><rect class="m8" x="356" y="-4" width="20" height="8"/><text class="w" x="366" y="2.2">8</text><rect class="m8" x="396" y="-4" width="20" height="8"/><text class="w" x="406" y="2.2">8</text><rect class="m8" x="436" y="-4" width="20" height="8"/><text class="w" x="446" y="2.2">8</text><rect class="m8" x="476" y="-4" width="20" height="8"/><text class="w" x="486" y="2.2">8</text><rect class="m20" x="516" y="-4" width="20" height="8"/><text class="d" x="526" y="2.2">20</text><rect class="m20" x="556" y="-4" width="20" height="8"/><text class="d" x="566" y="2.2">20</text></g>
<g id="OsMADS92" class="r" transform="translate(0,523)"><text class="lbl" x="54" y="2.1">OsMADS92</text><rect class="m5" x="76" y="-4" width="20" height="8"/><text class="d" x="86" y="2.2">5</text><rect class="m16" x="116" y="-4" width="20" height="8"/><text class="w" x="126" y="2.2">16</text><rect class="m20" x="156" y="-4" width="20" height="8"/><text class="d" x="166" y="2.2">20</text><rect class="m20" x="196" y="-4" width="20" height="8"/><text class="d" x="206" y="2.2">20</text><rect class="m19" x="236" y="-4" width="20" height="8"/><text class="w" x="246" y="2.2">19</text><rect class="m12" x="276" y="-4" width="20" height="8"/><text class="w" x="286" y="2.2">12</text><rect class="m10" x="316" y="-4" width="20" height="8"/><text class="d" x="326" y="2.2">10</text><rect class="m10" x="356" y="-4" width="20" height="8"/><text class="d" x="366" y="2.2">10</text></g>
<g id="OsMADS69" class="r" transform="translate(0,535)"><text class="lbl" x="54" y="2.1">OsMADS69</text><rect class="m1" x="56" y="-4" width="20" height="8"/><text class="d" x="66" y="2.2">1</text><rect class="m7" x="96" y="-4" width="20" height="8"/><text class="w" x="106" y="2.2">7</text><rect class="m13" x="136" y="-4" width="20" height="8"/><text class="w" x="146" y="2.2">13</text></g>
<g id="OsMADS71" class="r" transform="translate(0,543)"><text class="lbl" x="54" y="2.1">OsMADS71</text><rect class="m1" x="56" y="-4" width="20" height="8"/><text class="d" x="66" y="2.2">1</text><rect class="m5" x="76" y="-4" width="20" height="8"/><text class="d" x="86" y="2.2">5</text><rect class="m7" x="116" y="-4" width="20" height="8"/><text class="w" x="126" y="2.2">7</text><rect class="m13" x="156" y="-4" width="20" height="8"/><text class="w" x="166" y="2.2">13</text></g>
<g id="OsMADS64" class="r" transform="translate(0,551)"><text class="lbl" x="54" y="2.1">OsMADS64</text><rect class="m1" x="76" y="-4" width="20" height="8"/><text class="d" x="86" y="2.2">1</text><rect class="m5" x="116" y="-4" width="20" height="8"/><text class="d" x="126" y="2.2">5</text><rect class="m11" x="156" y="-4" width="20" height="8"/><text class="w" x="166" y="2.2">11</text></g>
<g id="OsMADS70" class="r" transform="translate(0,559)"><text class="lbl" x="54" y="2.1">OsMADS70</text><rect class="m1" x="76" y="-4" width="20" height="8"/><text class="d" x="86" y="2.2">1</text><rect class="m5" x="96" y="-4" width="20" height="8"/><text class="d" x="106" y="2.2">5</text><rect class="m13" x="136" y="-4" width="20" height="8"/><text class="w" x="146" y="2.2">13</text></g>
<g id="OsMADS74" class="r" transform="translate(0,567)"><text class="lbl" x="54" y="2.1">OsMADS74</text><rect class="m1" x="76" y="-4" width="20" height="8"/><text class="d" x="86" y="2.2">1</text><rect class="m5" x="96" y="-4" width="20" height="8"/><text class="d" x="106" y="2.2">5</text></g>
<g id="OsMADS76" class="r" transform="translate(0,575)"><text class="lbl" x="54" y="2.1">OsMADS76</text><rect class="m1" x="76" y="-4" width="20" height="8"/><text class="d" x="86" y="2.2">1</text><rect class="m5" x="96" y="-4" width="20" height="8"/><text class="d" x="106" y="2.2">5</text><rect class="m16" x="136" y="-4" width="20" height="8" style="fill:#2a55f0"/><text class="w" x="146" y="2.2">16</text><rect class="m13" x="176" y="-4" width="20" height="8"/><text class="w" x="186" y="2.2">13</text></g>
<g id="OsMADS78" class="r" transform="translate(0,583)"><text class="lbl" x="54" y="2.1">OsMADS78</text><rect class="m1" x="76" y="-4" width="20" height="8"/><text class="d" x="86" y="2.2">1</text><rect class="m5" x="96" y="-4" width="20" height="8"/><text class="d" x="106" y="2.2">5</text><rect class="m16" x="136" y="-4" width="20" height="8" style="fill:#2a55f0"/><text class="w" x="146" y="2.2">16</text><rect class="m13" x="176" y="-4" width="20" height="8"/><text class="w" x="186" y="2.2">13</text></g>
<g id="OsMADS79" class="r" transform="translate(0,591)"><text class="lbl" x="54" y="2.1">OsMADS79</text><rect class="m1" x="76" y="-4" width="20" height="8"/><text class="d" x="86" y="2.2">1</text><rect class="m5" x="96" y="-4" width="20" height="8"/><text class="d" x="106" y="2.2">5</text><rect class="m16" x="136" y="-4" width="20" height="8" style="fill:#2a55f0"/><text class="w" x="146" y="2.2">16</text><rect class="m13" x="176" y="-4" width="20" height="8"/><text class="w" x="186" y="2.2">13</text></g>
<g id="OsMADS73" class="r" transform="translate(0,599)"><text class="lbl" x="54" y="2.1">OsMADS73</text><rect class="m1" x="76" y="-4" width="20" height="8"/><text class="d" x="86" y="2.2">1</text><rect class="m5" x="96" y="-4" width="20" height="8"/><text class="d" x="106" y="2.2">5</text><rect class="m13" x="136" y="-4" width="20" height="8"/><text class="w" x="146" y="2.2">13</text><rect class="m11" x="176" y="-4" width="20" height="8"/><text class="w" x="186" y="2.2">11</text></g>
<g id="OsMADS75" class="r" transform="translate(0,607)"><text class="lbl" x="54" y="2.1">OsMADS75</text><rect class="m1" x="76" y="-4" width="20" height="8"/><text class="d" x="86" y="2.2">1</text><rect class="m5" x="96" y="-4" width="20" height="8"/><text class="d" x="106" y="2.2">5</text><rect class="m13" x="136" y="-4" width="20" height="8"/><text class="w" x="146" y="2.2">13</text><rect class="m13" x="176" y="-4" width="20" height="8"/><text class="w" x="186" y="2.2">13</text><rect class="m11" x="216" y="-4" width="20" height="8"/><text class="w" x="226" y="2.2">11</text></g>
<g id="OsMADS80" class="r" transform="translate(0,615)"><text class="lbl" x="54" y="2.1">OsMADS80</text><rect class="m1" x="76" y="-4" width="20" height="8"/><text class="d" x="86" y="2.2">1</text><rect class="m13" x="116" y="-4" width="20" height="8"/><text class="w" x="126" y="2.2">13</text><rect class="m13" x="156" y="-4" width="20" height="8"/><text class="w" x="166" y="2.2">13</text><rect class="m11" x="196" y="-4" width="20" height="8"/><text class="w" x="206" y="2.2">11</text></g>
<g id="OsMADS72" class="r" transform="translate(0,623)"><text class="lbl" x="54" y="2.1">OsMADS72</text><rect class="m9" x="76" y="-4" width="20" height="8"/><text class="w" x="86" y="2.2">9</text><rect class="m6" x="96" y="-4" width="20" height="8"/><text class="d" x="106" y="2.2">6</text><rect class="m5" x="136" y="-4" width="20" height="8"/><text class="d" x="146" y="2.2">5</text></g>
<g id="OsMADS77" class="r" transform="translate(0,631)"><text class="lbl" x="54" y="2.1">OsMADS77</text><rect class="m6" x="76" y="-4" width="20" height="8"/><text class="d" x="86" y="2.2">6</text><rect class="m11" x="116" y="-4" width="20" height="8"/><text class="w" x="126" y="2.2">11</text><rect class="m16" x="156" y="-4" width="20" height="8"/><text class="w" x="166" y="2.2">16</text><rect class="m13" x="196" y="-4" width="20" height="8"/><text class="w" x="206" y="2.2">13</text><rect class="m11" x="236" y="-4" width="20" height="8"/><text class="w" x="246" y="2.2">11</text></g>
</svg>
